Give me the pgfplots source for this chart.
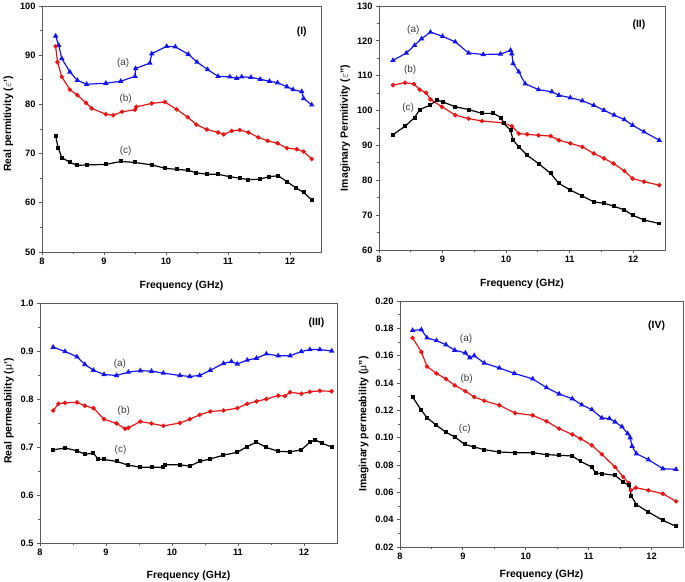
\documentclass[border=0pt]{standalone}
\usepackage{fontspec}
\setmainfont{Liberation Sans}
\usepackage{pgfplots}
\pgfplotsset{compat=1.18}
\definecolor{sblue}{RGB}{20,20,240}
\definecolor{sred}{RGB}{235,20,20}
\definecolor{axgray}{RGB}{90,90,90}
\definecolor{anngray}{RGB}{60,60,60}
\tikzset{
 ann/.style={font=\fontsize{10}{11}\selectfont, text=anngray},
 pan/.style={font=\fontsize{10.5}{12}\selectfont\bfseries},
}
\pgfplotsset{
 panel/.style={
  scale only axis,
  xmin=8, xmax=12.5,
  xtick={8,9,10,11,12},
  minor x tick num=1,
  minor y tick num=1,
  tick align=outside,
  tick pos=left,
  axis line style={draw=axgray, line width=0.9pt},
  major tick length=3pt, minor tick length=2pt,
  every tick/.style={axgray, line width=0.8pt},
  ticklabel style={font=\fontsize{9.3}{10}\selectfont\bfseries},
  /pgf/number format/assume math mode=true,
  label style={font=\fontsize{10.5}{12}\selectfont\bfseries},
  xlabel={Frequency (GHz)},
  clip=false,
 },
 sa/.style={sblue, line width=1.2pt, mark=triangle*, mark size=2pt},
 sb/.style={sred, line width=1.2pt, mark=*, mark size=1.6pt},
 sc/.style={black, line width=1.2pt, mark=square*, mark size=1.4pt},
}
\begin{document}
\begin{tikzpicture}
\useasboundingbox (0,0) rectangle (685bp,582bp);
% ---------------- Panel I
\begin{axis}[panel, at={(42bp,330bp)}, anchor=south west, width=279bp, height=246bp,
  ymin=50, ymax=100, ytick={50,60,70,80,90,100},
  xlabel style={yshift=-9bp},
  ylabel style={at={(ticklabel cs:0.52)}},
  ylabel={Real permitivity ($\varepsilon$')}]
\addplot[sa] coordinates {(8.22,93.9)(8.27,92.0)(8.32,89.3)(8.45,86.6)(8.57,84.9)(8.72,84.1)(9.03,84.3)(9.27,84.7)(9.50,85.7)(9.51,87.3)(9.74,88.4)(9.77,90.3)(10.01,91.8)(10.15,91.7)(10.36,90.2)(10.50,88.6)(10.67,87.1)(10.84,85.7)(11.03,85.6)(11.14,85.3)(11.22,85.6)(11.37,85.5)(11.52,85.1)(11.67,84.7)(11.80,84.4)(11.95,83.6)(12.05,83.0)(12.19,82.6)(12.22,81.2)(12.35,79.9)};
\addplot[sb] coordinates {(8.22,91.8)(8.25,88.6)(8.32,85.6)(8.45,83.0)(8.57,81.9)(8.71,80.3)(8.80,79.2)(9.03,78.0)(9.15,77.8)(9.29,78.5)(9.50,78.9)(9.52,79.5)(9.77,80.2)(9.98,80.5)(10.17,79.0)(10.35,77.4)(10.49,75.9)(10.66,74.9)(10.84,74.3)(10.93,73.9)(11.06,74.6)(11.19,74.8)(11.33,74.3)(11.49,73.3)(11.64,72.6)(11.80,72.1)(11.95,71.1)(12.11,70.9)(12.22,70.4)(12.35,68.9)};
\addplot[sc] coordinates {(8.22,73.6)(8.26,71.2)(8.32,69.2)(8.45,68.2)(8.57,67.6)(8.72,67.7)(9.03,67.8)(9.27,68.4)(9.50,68.2)(9.77,67.7)(9.99,67.0)(10.17,66.8)(10.36,66.6)(10.49,66.1)(10.66,65.8)(10.84,65.8)(11.03,65.3)(11.19,65.0)(11.33,64.7)(11.51,64.8)(11.66,65.3)(11.81,65.5)(11.95,64.3)(12.10,63.0)(12.22,62.1)(12.35,60.6)};
\node[ann] at (axis cs:9.31,88.4) {(a)};
\node[ann] at (axis cs:9.35,81.2) {(b)};
\node[ann] at (axis cs:9.35,70.6) {(c)};
\node[pan] at (axis cs:12.19,94.7) {(I)};
\end{axis}
% ---------------- Panel II
\begin{axis}[panel, at={(379bp,332bp)}, anchor=south west, width=286bp, height=244bp,
  ymin=60, ymax=130, ytick={60,70,80,90,100,110,120,130},
  xlabel style={yshift=-9bp},
  ylabel={Imaginary Permitivity ($\varepsilon$")}]
\addplot[sa] coordinates {(8.22,114.4)(8.43,116.5)(8.56,118.7)(8.67,120.6)(8.81,122.5)(9.00,121.3)(9.20,119.7)(9.41,116.5)(9.64,116.1)(9.91,116.2)(10.07,117.3)(10.09,116.3)(10.11,113.5)(10.20,111.1)(10.30,107.7)(10.51,106.0)(10.72,105.4)(10.83,104.4)(11.01,103.7)(11.20,102.8)(11.38,101.5)(11.54,100.1)(11.70,98.7)(11.86,97.4)(11.99,95.8)(12.17,93.9)(12.41,91.5)};
\addplot[sb] coordinates {(8.22,107.3)(8.41,108.0)(8.55,107.6)(8.64,106.0)(8.74,105.1)(8.81,103.2)(8.99,101.1)(9.20,98.7)(9.41,97.7)(9.62,97.0)(9.95,96.5)(10.09,95.5)(10.20,93.4)(10.33,93.2)(10.51,92.9)(10.70,92.7)(10.83,91.5)(11.01,90.6)(11.20,89.6)(11.38,87.7)(11.54,86.3)(11.69,84.8)(11.86,82.7)(11.99,80.5)(12.17,79.6)(12.41,78.6)};
\addplot[sc] coordinates {(8.22,93.1)(8.41,95.5)(8.56,98.0)(8.64,100.3)(8.80,101.5)(8.91,103.0)(9.00,102.5)(9.20,101.1)(9.41,100.3)(9.62,99.2)(9.80,99.2)(9.92,98.0)(9.96,96.3)(10.07,94.4)(10.11,91.5)(10.20,89.6)(10.33,87.2)(10.51,84.8)(10.70,82.0)(10.83,79.1)(11.01,77.2)(11.20,75.5)(11.38,73.8)(11.54,73.4)(11.69,72.6)(11.86,71.5)(11.99,70.0)(12.17,68.6)(12.41,67.6)};
\node[ann] at (axis cs:8.54,123.0) {(a)};
\node[ann] at (axis cs:8.49,111.6) {(b)};
\node[ann] at (axis cs:8.46,100.9) {(c)};
\node[pan] at (axis cs:12.09,124.5) {(II)};
\end{axis}
% ---------------- Panel III
\begin{axis}[panel, at={(40bp,39bp)}, anchor=south west, width=297bp, height=240bp,
  ymin=0.5, ymax=1.0, ytick={0.5,0.6,0.7,0.8,0.9,1.0},
  yticklabel style={/pgf/number format/.cd, fixed, fixed zerofill, precision=1},
  xlabel style={yshift=-8bp},
  ylabel style={at={(ticklabel cs:0.55)}},
  ylabel={Real permeability ({\mdseries μ}')}]
\addplot[sa] coordinates {(8.20,0.908)(8.38,0.899)(8.56,0.888)(8.68,0.872)(8.81,0.860)(8.97,0.851)(9.16,0.849)(9.34,0.856)(9.52,0.859)(9.69,0.858)(9.87,0.854)(10.12,0.849)(10.27,0.847)(10.42,0.849)(10.58,0.860)(10.78,0.874)(10.90,0.878)(10.99,0.873)(11.14,0.881)(11.28,0.885)(11.43,0.894)(11.61,0.890)(11.79,0.890)(11.96,0.899)(12.09,0.903)(12.24,0.903)(12.42,0.900)};
\addplot[sb] coordinates {(8.20,0.776)(8.28,0.790)(8.38,0.792)(8.56,0.793)(8.68,0.786)(8.81,0.781)(8.97,0.758)(9.16,0.749)(9.29,0.738)(9.34,0.740)(9.52,0.753)(9.69,0.749)(9.87,0.744)(10.12,0.750)(10.27,0.758)(10.42,0.767)(10.58,0.774)(10.78,0.776)(10.99,0.781)(11.14,0.790)(11.28,0.795)(11.43,0.800)(11.61,0.807)(11.71,0.806)(11.79,0.814)(11.96,0.811)(12.09,0.815)(12.24,0.817)(12.42,0.816)};
\addplot[sc] coordinates {(8.20,0.694)(8.38,0.698)(8.56,0.692)(8.68,0.685)(8.81,0.687)(8.88,0.675)(8.97,0.674)(9.16,0.670)(9.34,0.662)(9.52,0.658)(9.69,0.658)(9.87,0.658)(9.89,0.663)(10.12,0.663)(10.27,0.660)(10.42,0.670)(10.58,0.675)(10.78,0.683)(10.99,0.689)(11.14,0.701)(11.28,0.710)(11.43,0.699)(11.61,0.691)(11.79,0.690)(11.96,0.694)(12.09,0.710)(12.17,0.715)(12.27,0.708)(12.42,0.700)};
\node[ann] at (axis cs:9.21,0.874) {(a)};
\node[ann] at (axis cs:9.27,0.776) {(b)};
\node[ann] at (axis cs:9.22,0.694) {(c)};
\node[pan] at (axis cs:12.19,0.958) {(III)};
\end{axis}
% ---------------- Panel IV
\begin{axis}[panel, at={(400bp,35bp)}, anchor=south west, width=283bp, height=246bp,
  ymin=0.02, ymax=0.20, ytick={0.02,0.04,0.06,0.08,0.10,0.12,0.14,0.16,0.18,0.20},
  yticklabel style={/pgf/number format/.cd, fixed, fixed zerofill, precision=2},
  xlabel style={yshift=-3bp},
  ylabel={Imaginary permeability ({\mdseries μ}")}]
\addplot[sa] coordinates {(8.20,0.1785)(8.34,0.179)(8.43,0.173)(8.58,0.171)(8.73,0.168)(8.87,0.164)(9.04,0.162)(9.11,0.1585)(9.18,0.160)(9.34,0.1546)(9.58,0.151)(9.82,0.147)(10.11,0.143)(10.33,0.1366)(10.53,0.132)(10.74,0.1285)(10.89,0.124)(11.05,0.1205)(11.21,0.1144)(11.33,0.114)(11.42,0.1115)(11.53,0.108)(11.62,0.103)(11.66,0.100)(11.69,0.0937)(11.76,0.0883)(11.95,0.0839)(12.18,0.0773)(12.39,0.0768)};
\addplot[sb] coordinates {(8.20,0.173)(8.34,0.1627)(8.43,0.152)(8.58,0.147)(8.73,0.143)(8.87,0.1383)(9.04,0.134)(9.18,0.1298)(9.34,0.127)(9.58,0.1237)(9.83,0.118)(10.11,0.1163)(10.33,0.112)(10.53,0.1066)(10.74,0.1024)(10.87,0.0993)(11.05,0.0944)(11.21,0.0878)(11.42,0.0785)(11.55,0.0712)(11.64,0.0668)(11.67,0.0615)(11.75,0.0634)(11.95,0.0615)(12.18,0.059)(12.39,0.0534)};
\addplot[sc] coordinates {(8.20,0.1298)(8.34,0.120)(8.43,0.1146)(8.58,0.109)(8.73,0.104)(8.87,0.1005)(9.03,0.0951)(9.18,0.0932)(9.34,0.0912)(9.58,0.0895)(9.83,0.0890)(10.11,0.0890)(10.33,0.0876)(10.53,0.0871)(10.74,0.0866)(10.87,0.0827)(11.05,0.0785)(11.11,0.0741)(11.21,0.0737)(11.42,0.0724)(11.55,0.0676)(11.64,0.0651)(11.68,0.0571)(11.76,0.051)(11.95,0.0456)(12.18,0.0395)(12.39,0.0351)};
\node[ann] at (axis cs:9.05,0.1724) {(a)};
\node[ann] at (axis cs:9.06,0.143) {(b)};
\node[ann] at (axis cs:9.03,0.1066) {(c)};
\node[pan] at (axis cs:12.08,0.182) {(IV)};
\end{axis}
\end{tikzpicture}
\end{document}
